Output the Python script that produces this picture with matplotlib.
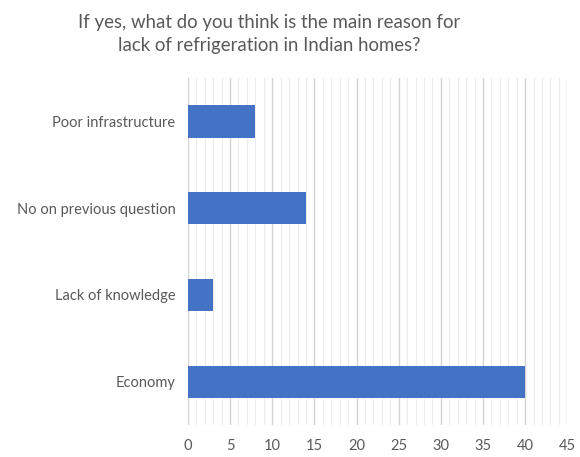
import matplotlib.pyplot as plt
import numpy as np

reasons = ['Economy', 'Lack of knowledge', 'No on previous question', 'Poor infrastructure']
counts = [40, 3, 14, 8]

plt.rcParams['font.family'] = ['Lato', 'DejaVu Sans']

fig = plt.figure(figsize=(5.8, 4.57), dpi=100)
ax = fig.add_axes([0.324, 0.070, 0.654, 0.759])

y = np.arange(len(reasons))
ax.barh(y, counts, height=0.37, color='#4472C4', zorder=3)

ax.set_xlim(0, 45)
ax.set_ylim(-0.5, len(reasons) - 0.5)
ax.set_xticks(np.arange(0, 46, 5))
ax.set_xticks(np.arange(0, 46, 1), minor=True)
ax.set_yticks(y)
ax.set_yticklabels(reasons)

ax.grid(axis='x', which='major', color='#d4d4d4', linewidth=1.0, zorder=0)
ax.grid(axis='x', which='minor', color='#ececec', linewidth=0.8, zorder=0)

for s in ax.spines.values():
    s.set_visible(False)
ax.tick_params(axis='both', which='both', length=0, colors='#595959', labelsize=10.5)
ax.tick_params(axis='x', pad=10)
ax.tick_params(axis='y', pad=9)

fig.text(0.464, 0.925, 'If yes, what do you think is the main reason for\nlack of refrigeration in Indian homes?',
         ha='center', va='center', fontsize=13.4, color='#595959', linespacing=1.4)

fig.savefig('out.png', dpi=100)
